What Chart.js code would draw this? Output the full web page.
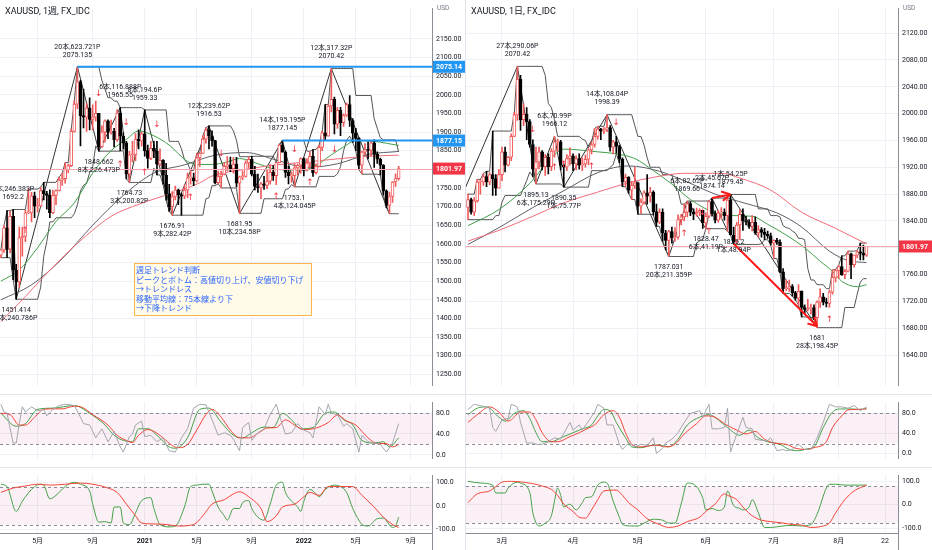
<!DOCTYPE html>
<html lang="ja">
<head>
<meta charset="utf-8">
<title>XAUUSD</title>
<script src="https://cdn.jsdelivr.net/npm/chart.js@4.4.1/dist/chart.umd.min.js"></script>
<style>
html, body { margin: 0; padding: 0; background: #fff; }
#wrap { position: relative; width: 932px; height: 550px; overflow: hidden; }
#wrap canvas { position: absolute; }
#sep { position: absolute; left: 465px; top: 0; width: 1px; height: 550px; background: #e0e3eb; }
</style>
</head>
<body>
<div id="wrap">
  <canvas id="l1" width="466" height="394" style="left:0;top:0"></canvas>
  <canvas id="l2" width="466" height="73" style="left:0;top:394px"></canvas>
  <canvas id="l3" width="466" height="83" style="left:0;top:467px"></canvas>
  <div id="sep"></div>
  <canvas id="r1" width="466" height="394" style="left:466px;top:0"></canvas>
  <canvas id="r2" width="466" height="73" style="left:466px;top:394px"></canvas>
  <canvas id="r3" width="466" height="83" style="left:466px;top:467px"></canvas>
</div>
<script>
// ---------- weekly XAUUSD, bar 0 = week of 2020-02-10 ----------
var wOpen = [1570,1584,1643,1586,1674,1530,1498,1617,1620,1683,
  1683,1729,1701,1702,1743,1735,1730,1684,1730,1743,
  1771,1775,1799,1810,1902,1975,2035,1944,1940,1964,
  1934,1940,1950,1861,1900,1930,1899,1902,1879,1951,
  1889,1871,1788,1839,1839,1881,1876,1895,1850,1829,
  1856,1849,1814,1824,1784,1734,1700,1727,1745,1732,
  1728,1744,1777,1777,1769,1831,1843,1881,1905,1890,
  1877,1764,1781,1787,1808,1812,1802,1814,1763,1780,
  1781,1817,1827,1787,1754,1750,1761,1757,1768,1792,
  1783,1818,1865,1846,1792,1783,1783,1804,1811,1829,
  1797,1817,1835,1791,1808,1859,1898,1889,1970,1988,
  1921,1958,1925,1945,1974,1931,1897,1883,1811,1846,
  1853,1851,1871,1840,1827,1811,1742,1703,1727,1766,
  1775];
var wHigh = [1584,1649,1689,1688,1692.2,1545,1645,1645,1690,1747,
  1738,1739,1722,1752,1765,1741,1745,1744,1745,1779,
  1789,1818,1814,1908,1984,2075.1,2039,2015,1977,1992,
  1973,1983,1950,1917,1933,1933,1932,1910,1960,1965.5,
  1898,1875,1848,1875,1896,1906,1900,1959.3,1865,1875,
  1875,1875,1855,1826,1816,1760,1740,1755,1747,1736,
  1758,1790,1797,1790,1843,1845,1890,1912,1916.5,1903,
  1878,1795,1795,1818,1834,1833,1832,1832,1782,1795,
  1823,1834,1835,1808,1787,1765,1781,1800,1813,1810,
  1818,1868,1877.1,1849,1809,1793,1815,1814,1831,1831,
  1829,1848,1853,1815,1865,1902,1974,1974,2070.4,1994,
  1966,1966,1949,1978,1998,1936,1910,1885,1849,1869,
  1874,1875,1879,1847,1830,1813,1745,1739,1767,1788,
  1808];
var wLow = [1563,1577,1563,1576,1504,1451.4,1484,1567,1606,1681,
  1659,1670,1685,1700,1718,1693,1670,1681,1705,1742,
  1757,1763,1791,1807,1900,1963,1863,1911,1902,1906,
  1906,1929,1848.7,1859,1873,1882,1894,1860,1875,1850,
  1854,1774,1764.7,1820,1823,1855,1862,1835,1803,1826,
  1831,1785,1809,1760,1717,1687,1676.9,1718,1705,1677,
  1721,1724,1760,1756,1766,1808,1843,1870,1855,1862,
  1761,1761,1750,1785,1796,1794,1790,1753,1681.9,1772,
  1779,1803,1782,1745,1738,1721,1746,1748,1760,1770,
  1759,1817,1846,1778,1761,1765,1753.1,1785,1790,1782,
  1796,1805,1781,1788,1807,1850,1878,1889,1954,1895,
  1910,1890,1915,1941,1915,1872,1850,1799,1787,1839,
  1828,1836,1805,1816,1785,1732,1697,1680.9,1711,1754,
  1771];
var wClose = [1584,1643,1585,1674,1530,1498,1617,1620,1683,1683,
  1729,1701,1702,1743,1735,1730,1684,1730,1743,1771,
  1775,1799,1810,1902,1975,2035,1944,1940,1964,1934,
  1940,1950,1861,1900,1930,1899,1902,1879,1951,1889,
  1871,1788,1839,1839,1881,1876,1895,1850,1829,1856,
  1849,1814,1824,1784,1734,1700,1727,1745,1732,1728,
  1744,1777,1777,1769,1831,1843,1881,1905,1890,1877,
  1764,1781,1787,1808,1812,1802,1814,1763,1780,1781,
  1817,1827,1787,1754,1750,1761,1757,1768,1792,1783,
  1818,1865,1846,1792,1783,1783,1804,1811,1829,1797,
  1817,1835,1791,1808,1859,1898,1889,1970,1988,1921,
  1958,1925,1945,1974,1931,1897,1883,1811,1846,1853,
  1851,1871,1840,1827,1811,1742,1703,1727,1766,1775,
  1802];

// weekly moving averages (bar index / price)
var wMaGreenIdx = [0,6,12,18,24,30,36,41,45,50,55,61,65,69,74,78,84,90,96,102,108,112,116,122,126,130];
var wMaGreen = [1500,1530,1590,1660,1710,1790,1850,1880,1903,1890,1865,1821,1813,1813,1820,1829,1815,1800,1798,1805,1839,1860,1877,1875,1870,1864];
var wMaGrayIdx = [0,10,20,30,40,50,60,70,80,90,100,110,120,130];
var wMaGray = [1450,1490,1560,1650,1730,1790,1812,1838,1845,1825,1805,1815,1840,1848];
var wMaRedIdx = [0,7,14,21,28,36,43,51,56,65,69,80,90,100,110,120,130];
var wMaRed = [1392,1450,1512,1571,1623,1674,1700,1723,1736,1764,1782,1800,1812,1820,1828,1835,1838];

// weekly zigzag pivots
var wPivIdx = [4,5,25,32,39,42,47,56,68,78,92,96,108,127];
var wPivPrice = [1692.2,1451.414,2075.135,1848.662,1965.55,1764.73,1959.33,1676.91,1916.53,1681.95,1877.145,1753.1,2070.42,1680.91];
var wNoteIdx = [4,25,39,47,68,92,108,5,32,42,56,78,96];
var wNotePrice = [1692.2,2075.135,1965.55,1959.33,1916.53,1877.145,2070.42,1451.414,1848.662,1764.73,1676.91,1681.95,1753.1];
var wNoteText = ['7本,246.383P|1692.2','20本,623.721P|2075.135','6本,116.888P|1965.55','8本,194.6P|1959.33',
  '12本,239.62P|1916.53','14本,195.195P|1877.145','12本,317.32P|2070.42',
  '1451.414|1本,240.786P','1848.662|8本,226.473P','1764.73|3本,200.82P','1676.91|9本,282.42P',
  '1681.95|10本,234.58P','1753.1|4本,124.045P'];
var wNoteUp = [1,1,1,1,1,1,1,0,0,0,0,0,0];
var wUpIdx = [8,39,47,62,90,101];
var wUpPrice = [1636,1813,1790,1723,1726,1764];
var wDownIdx = [32,41,51,72,96,109];
var wDownPrice = [2003,1924,1919,1841,1854,1854];
var wLevels = [2075.14,1877.15];
var wLevelFrom = [25,92];

var wStKIdx = [0,1,2,4,5,6,7,8,10,12,14,15,17,19,21,24,26,27,29,31,33,35,37,39,40,42,43,44,46,47,49,51,53,55,57,59,61,63,65,67,69,71,73,75,76,78,79,81,82,84,86,88,90,92,93,95,97,99,101,102,104,106,107,108,110,112,113,115,117,118,120,122,124,126,128,130];
var wStK = [96.8,82,79.5,22.7,22.7,59.8,91.9,82,91.9,84.4,86.9,74.6,86.9,94.3,96.8,94.3,72.1,59.8,57.3,32.6,49.9,25.2,44.9,15.3,5.4,35.1,40,57.3,64.7,35.1,37.5,25.2,32.6,7.9,5.4,32.6,49.9,89.4,96.8,95.8,67.2,37.5,42.5,37.5,30.1,7.9,52.3,62.2,27.7,42.5,49.9,77,96.8,57.3,40,42.5,59.8,47.4,42.5,32.6,91.9,77,96.8,79.5,77,54.8,59.8,49.9,5.4,37.5,25.2,22.7,20.2,5.4,22.7,59.8];
var wStDIdx = [0,5,8,12,17,24,29,34,37,40,43,45,48,51,55,57,61,65,68,72,76,79,82,86,89,92,95,98,102,106,109,112,115,118,122,125,127,130];
var wStD = [79.5,54.8,59.8,87,89.4,94.3,79.5,57.3,37.5,27.7,25.2,49.9,49.9,37.5,15.3,12.8,32.6,87,89.4,62.2,37.5,32.6,42.5,53.3,52.3,79.5,67.2,49.9,52.3,79.5,82,67.2,57.3,27.7,22.7,25.2,15.3,32.6];
var wStSIdx = [0,3,6,8,11,14,17,20,24,26,30,35,38,41,43,45,48,50,53,56,58,61,64,67,69,72,75,78,81,85,87,90,93,96,99,103,107,110,113,116,120,123,126,128,130];
var wStS = [79.5,77,57,57,72,87,88,88,93,92,77,57,37.5,27.7,23.7,37.5,48.4,45,32.6,17.8,13.8,20,47.4,77,87,72,47.4,32.6,32.6,45,51.4,52.3,67,57,48.4,51.4,62,76,64.7,57,32.6,21.7,21.7,15.3,20];
var wRciSIdx = [0,2,5,7,11,13,14,16,18,21,24,26,29,30,32,34,36,37,39,40,42,44,46,49,50,52,55,57,60,62,64,66,68,69,71,73,74,76,78,79,81,82,84,86,88,90,92,93,95,97,98,99,101,103,104,106,109,111,113,115,117,118,120,123,125,128,129,130];
var wRciS = [91.4,81.5,-23.5,19.8,81.5,91.4,87.7,29.6,44.4,81.5,100,91.4,63,7.4,-69,-66.7,-72.8,-4.9,-4.9,-72.8,-79,-29.6,22.2,34.6,-11.1,-79,-88.9,-85.2,-4.9,81.5,87.7,91.4,91.4,63,-4.9,-42,-60.5,-11.1,-11.1,13.6,22.2,-11.1,-48.1,-60.5,7.4,87.7,100,56.8,19.8,-4.9,-23.5,19.8,69.1,50.6,38.3,69.1,87.7,81.5,56.8,-11.1,-60.5,-79,-85.2,-54.3,-51.9,-91.4,-85.2,-48.1];
var wRciLIdx = [0,4,8,12,16,21,26,30,35,38,41,44,46,50,54,58,63,66,69,73,76,78,81,85,87,90,92,96,99,101,104,107,111,115,118,122,125,128,130];
var wRciL = [56.8,75.3,84,91.4,87.7,91.4,96.3,91.4,75.3,56.8,7.4,-42,-72.8,-76.5,-79,-85.2,-79,-42,7.4,25.9,50.6,59.3,38.3,-11.1,-66.7,-42,-4.9,7.4,38.3,56.8,44.4,81.5,81.5,81.5,44.4,-4.9,-48.1,-79,-91.4];

var wTickIdx = [12,30,47,64,82,99,116,134];
var wTickText = ['5月','9月','2021','5月','9月','2022','5月','9月'];
var wPriceTicks = [1250,1300,1350,1400,1450,1500,1550,1600,1650,1700,1750,1800,1850,1900,1950,2000,2050,2100,2150];

// ---------- daily XAUUSD, bar 0 = 2022-02-14 ----------
var dOpen = [1860,1872,1853,1870,1898,1898,1906,1898,1909,1903,
  1889,1909,1943,1923,1935,1966,1998,2051,1991,1999,
  1988,1954,1917,1928,1943,1921,1935,1921,1944,1958,
  1958,1923,1920,1933,1937,1925,1933,1923,1925,1932,
  1946,1954,1966,1977,1974,1977,1979,1950,1958,1951,
  1932,1898,1905,1886,1893,1897,1862,1868,1882,1877,
  1883,1854,1838,1853,1822,1811,1824,1815,1816,1842,
  1846,1853,1866,1853,1850,1853,1856,1837,1847,1869,
  1851,1841,1852,1853,1848,1871,1819,1809,1834,1850,
  1840,1838,1832,1838,1822,1827,1823,1820,1818,1807,
  1811,1808,1764,1739,1740,1742,1733,1725,1735,1711,
  1708,1709,1711,1696,1719,1727,1719,1717,1734,1756,
  1766,1772,1760,1765,1791,1775,1789,1794,1792,1789];
var dHigh = [1880,1874,1875,1902,1902,1911,1914,1912,1974,1909,
  1917,1950,1950,1936,1970,2002,2070.4,2057,2015,2009,
  1991,1961,1950,1950,1945,1939,1940,1948,1966.1,1962,
  1960,1925,1939,1949,1940,1937,1940,1934,1938,1948,
  1958,1978,1981,1978,1979,1998.4,1982,1960,1966,1953,
  1934,1910,1906,1899,1920,1898,1873,1885,1909,1890,
  1885,1865,1858,1858,1826,1826,1831,1830,1849,1850,
  1865,1869.7,1869,1858,1859,1858,1856,1852,1870,1874.1,
  1855,1856,1860,1858,1875,1879.5,1831,1838,1857,1858,
  1847,1842,1848,1846,1833,1830,1829,1825,1822,1812,
  1814,1812,1769,1752,1752,1745,1735,1745,1736,1715,
  1723,1716,1715,1721,1739,1732,1725,1737,1767,1768,
  1774,1788,1768,1795,1792,1789,1796,1807,1804,1802];
var dLow = [1842,1850,1848,1868,1880,1893,1891,1894,1878,1878,
  1889,1900,1913,1922,1930,1966,1990,1975,1982,1961,
  1950,1906,1895.1,1918,1916,1908,1910,1915,1935,1944,
  1916,1890.4,1915,1923,1915,1916,1917,1915,1920,1924,
  1940,1950,1962,1961,1970,1973,1944,1940,1941,1927,
  1891,1891,1881,1872,1888,1850,1851,1865,1865,1868,
  1849,1832,1836,1810,1797,1787,1807,1810,1813,1834,
  1840,1846,1848,1842,1847,1848,1829,1828.5,1845,1847,
  1837,1838,1843,1841,1825.2,1819,1805,1806,1812,1826,
  1834,1829,1825,1820,1816,1816,1812,1814,1804,1784,
  1805,1763,1732,1736,1735,1728,1722,1715,1697,1702,
  1706,1701,1693,1681,1711,1715,1712,1711,1731,1749,
  1754,1759,1754,1764,1754,1771,1785,1782,1782,1787];
var dClose = [1872,1853,1870,1898,1898,1906,1898,1909,1903,1889,
  1909,1943,1923,1935,1966,1998,2051,1991,1999,1988,
  1954,1917,1928,1943,1921,1935,1921,1944,1958,1958,
  1923,1920,1933,1937,1925,1933,1923,1925,1932,1946,
  1954,1966,1977,1974,1977,1979,1950,1958,1951,1932,
  1898,1905,1886,1893,1897,1862,1868,1882,1877,1883,
  1854,1838,1853,1822,1811,1824,1815,1816,1842,1846,
  1853,1866,1853,1850,1853,1856,1837,1847,1869,1851,
  1841,1852,1853,1848,1871,1819,1809,1834,1850,1840,
  1838,1832,1838,1822,1827,1823,1820,1818,1807,1811,
  1808,1764,1739,1740,1742,1733,1725,1735,1711,1708,
  1709,1711,1696,1719,1727,1719,1717,1734,1756,1766,
  1772,1760,1765,1791,1775,1789,1794,1792,1789,1802];

var dMaRedIdx = [0,10,21,31,42,52,60,70,82,88,98,108,119,125,129];
var dMaRed = [1810,1826,1847,1867,1883,1897,1905,1911,1911,1904,1886,1853,1829,1815,1806];
var dMaGreenIdx = [0,10,20,26,31,42,48,54,60,66,72,80,86,92,97,103,109,114,118,121,126,129];
var dMaGreen = [1833,1857,1896,1929,1947,1943,1940,1933,1915,1895,1872,1852,1848,1847,1835,1819,1800,1780,1765,1750,1742,1745];
var dMaGrayIdx = [0,10,21,31,42,52,62,70,80,90,100,108,117,123,129];
var dMaGray = [1805,1830,1860,1885,1912,1922,1914,1900,1880,1866,1852,1831,1795,1781,1778];

var dPivIdx = [-11,16,22,28,31,45,65,71,77,79,84,85,113];
var dPivPrice = [1780.36,2070.42,1895.13,1966.12,1890.35,1998.39,1787.031,1869.66,1828.47,1874.14,1825.2,1879.45,1681];
var dNoteIdx = [16,28,45,71,79,85,22,31,65,77,86,113];
var dNotePrice = [2070.42,1966.12,1998.39,1869.66,1874.14,1879.45,1895.13,1890.35,1787.031,1828.47,1825.2,1681];
var dNoteText = ['27本,290.06P|2070.42','6本,70.99P|1966.12','14本,108.04P|1998.39','6本,82.62P|1869.66',
  '2本,45.67P|1874.14','1本,54.25P|1879.45','1895.13|6本,175.29P','1890.35|1本,75.77P',
  '1787.031|20本,211.359P','1828.47|6本,41.19P','1825.2|1本,48.94P','1681|28本,198.45P'];
var dNoteUp = [1,1,1,1,1,1,0,0,0,0,0,0];
var dUpIdx = [28,31,40,70,78,117];
var dUpPrice = [1919,1924,1921,1821,1824,1693];
var dDownIdx = [21,48,76];
var dDownPrice = [1976,1986,1853];
var dArrowX0 = [79,86], dArrowY0 = [1874.14,1806];
var dArrowX1 = [85,113], dArrowY1 = [1879.45,1683];

var dStKIdx = [0,2,4,7,8,9,11,13,14,16,17,19,21,22,24,26,28,30,33,34,36,37,39,41,42,44,45,47,49,50,52,54,56,58,60,61,63,64,66,68,70,72,75,76,78,79,81,83,84,85,87,89,90,92,93,95,97,98,100,102,103,105,107,109,111,113,115,117,119,121,123,125,127,129];
var dStK = [87.1,97.2,94.7,89.6,51.5,43.8,66.8,69.3,97.2,92.2,61.7,21,21,18.5,18.5,23.5,31.2,28.6,61.7,46.4,56.6,46.4,64.2,82,97.2,89.6,56.6,56.6,18.5,8.3,21,13.4,18.5,15.9,31.2,0.7,10.8,21,28.6,41.3,61.7,79.4,84.6,71.8,97.2,48.9,48.9,51.5,89.6,3.2,38.8,71.8,51.5,48.9,28.6,26,26,31.2,5.8,8.3,5.8,8.3,18.5,8.3,8.3,31.2,61.7,97.2,92.2,92.2,89.6,94.7,84.6,92.2];
var dStDIdx = [0,3,6,10,12,15,18,20,22,24,27,30,34,37,40,42,44,46,48,51,53,56,60,63,65,68,71,75,78,81,84,88,91,94,97,101,104,107,110,112,115,118,121,124,127,129];
var dStD = [76.9,89.6,92.2,71.8,64.2,79.4,84.6,69.3,41.3,23.5,23.5,31.2,41.3,48.9,56.6,74.4,87.1,84.6,61.7,31.2,13.4,11.8,16.9,15.9,13.4,28.6,56.6,71.8,76.9,66.8,51.5,36.2,46.4,31.2,23.5,18.5,8.3,5.8,9.8,13.4,51.5,82,88.1,88.1,87.1,89.6];
var dStSIdx = [0,3,7,10,13,14,17,20,22,24,27,29,33,36,39,41,44,47,49,51,53,56,61,64,67,70,74,77,80,83,87,90,93,96,99,103,106,109,112,116,118,121,123,126,129];
var dStS = [61.7,76.9,92.2,82,64.2,66.8,82,82,66.8,41.3,23.5,23.5,33.7,41.3,50.5,56.6,76.9,84.6,71.8,41.3,18.5,13.4,16.9,13.4,18.5,38.8,59.1,74.4,71.8,59.1,46.4,38.8,43.8,28.6,21,18.5,10.8,8.3,11.8,23.5,51.5,74.4,86.1,87.1,88.1];
var dRciSIdx = [0,4,8,9,12,13,16,17,20,21,23,25,27,28,29,30,31,33,35,37,38,40,42,44,45,47,49,50,53,55,57,60,63,65,67,69,71,74,76,77,79,81,83,84,86,88,89,91,92,94,96,98,102,105,108,111,113,116,117,119,122,125,129];
var dRciS = [100,92.5,83.8,50,50,71.3,96.3,92.5,52.5,-35,-91.3,-78.8,-47.5,15,71.3,40,-10,2.5,-22.5,8.8,30,33.8,83.8,96.3,92.5,15,-53.8,-85,-91.3,-91.3,-78.8,-62.5,-66.3,-78.8,-78.8,2.5,92.5,77.5,27.5,-22.5,-16.3,-25,-10,58.8,-3.8,-16.3,-22.5,-10,21.3,-35,-97.5,-97.5,-91.3,-88.8,-91.3,-85,-41.3,71.3,87.5,87.5,83.8,83.8,83.8];
var dRciLIdx = [0,3,7,9,11,14,17,21,24,27,29,31,34,36,38,40,42,44,48,50,52,55,58,62,65,68,71,75,77,80,83,84,87,89,92,95,98,102,105,108,111,115,117,119,122,125,129];
var dRciL = [8.8,46.3,58.8,77.5,96.3,100,97.5,90,80,65,40,2.5,-28.8,-53.8,-57.5,-22.5,21.3,58.8,62.5,40,8.8,-22.5,-60,-85,-97.5,-91.3,-72.5,-53.8,-28.8,2.5,46.3,40,21.3,-10,-47.5,-66.3,-72.5,-78.8,-85,-87.5,-97.5,-91.3,-78.8,-35,21.3,58.8,83.8];

var dTickIdx = [11,34,55,77,99,120,135];
var dTickText = ['3月','4月','5月','6月','7月','8月','22'];
var dPriceTicks = [1640,1680,1720,1760,1800,1840,1880,1920,1960,2000,2040,2080,2120];

var lastPrice = 1801.97;
var stochTicks = [0,40,80];
var rciTicks = [-100,0,100];
var noteBox = ['週足トレンド判断','ピークとボトム：高値切り上げ、安値切り下げ','→トレンドレス','移動平均線：75本線より下','→下降トレンド'];

// ---------- helpers ----------
var FONT = 'Roboto, "Noto Sans CJK JP", sans-serif';
Chart.defaults.font.family = FONT;
Chart.defaults.font.size = 7;
Chart.defaults.color = '#131722';

var UP = '#f05a5a', DOWN = '#000000';

function candles(o, h, l, c) {
  var body = [], wick = [], bg = [], bc = [];
  for (var k = 0; k < o.length; k++) {
    var up = c[k] >= o[k];
    body.push({x: k, y: [o[k], c[k]]});
    wick.push({x: k, y: [l[k], h[k]]});
    bg.push(up ? '#ffffff' : DOWN);
    bc.push(up ? UP : DOWN);
  }
  return [
    {type: 'bar', data: body, backgroundColor: bg, borderColor: bc, borderWidth: 1, borderSkipped: false,
     barThickness: 3, minBarLength: 1, grouped: false, order: 0},
    {type: 'bar', data: wick, backgroundColor: bc, barThickness: 1, grouped: false, order: 1}
  ];
}

function pts(idx, val) {
  return idx.map(function (v, k) { return {x: v, y: val[k]}; });
}

// rolling highest high / lowest low (price channel)
function channel(arr, n, hi) {
  var out = [];
  for (var k = 0; k < arr.length; k++) {
    var s = arr.slice(Math.max(0, k - n + 1), k + 1);
    out.push({x: k, y: hi ? Math.max.apply(null, s) : Math.min.apply(null, s)});
  }
  return out;
}

function line(data, color, w, smooth) {
  return {type: 'line', data: data, borderColor: color, borderWidth: w, pointRadius: 0, fill: false,
          tension: 0, cubicInterpolationMode: smooth ? 'monotone' : 'default', order: 5};
}

function xAxis(min, max, tIdx, tTxt, show) {
  return {
    type: 'linear', min: min, max: max, offset: false,
    afterBuildTicks: function (s) { s.ticks = tIdx.map(function (v) { return {value: v}; }); },
    afterFit: function (s) { s.height = show ? 17 : 0; },
    grid: {color: '#eef0f5', drawTicks: false, offset: false},
    border: {display: show, color: '#8a8d96'},
    ticks: {
      display: show, autoSkip: false, maxRotation: 0, padding: 4,
      font: function (c) { return {size: 7, weight: /^\d{4}$/.test(tTxt[c.index]) ? 'bold' : 'normal'}; },
      callback: function (v, k) { return tTxt[k]; }
    }
  };
}

function yAxis(min, max, tv, dec) {
  return {
    position: 'right', min: min, max: max,
    afterBuildTicks: function (s) { s.ticks = tv.map(function (v) { return {value: v}; }); },
    afterFit: function (s) { s.width = 34; },
    grid: {color: '#eef0f5', drawTicks: false},
    border: {display: true, color: '#8a8d96'},
    ticks: {padding: 4, callback: function (v) { return v.toFixed(dec); }}
  };
}

function baseOpts(xs, ys) {
  return {
    responsive: false, animation: false, events: [], layout: {padding: 0},
    plugins: {legend: {display: false}, tooltip: {enabled: false}},
    scales: {x: xs, y: ys}
  };
}

function pricePlugin(cfg) {
  return {
    id: 'pricedeco',
    afterDatasetsDraw: function (ch) {
      var g = ch.ctx, x = ch.scales.x, y = ch.scales.y, a = ch.chartArea, k;
      g.save();
      g.beginPath(); g.rect(a.left, a.top, a.right - a.left, a.bottom - a.top); g.clip();
      var ly = Math.round(y.getPixelForValue(lastPrice)) + 0.5;
      g.strokeStyle = '#f6a5ab'; g.lineWidth = 1;
      g.beginPath(); g.moveTo(a.left, ly); g.lineTo(a.right, ly); g.stroke();
      for (k = 0; k < cfg.levels.length; k++) {
        var yy = y.getPixelForValue(cfg.levels[k]);
        g.strokeStyle = '#2196f3'; g.lineWidth = 2;
        g.beginPath(); g.moveTo(x.getPixelForValue(cfg.levelFrom[k]), yy); g.lineTo(a.right, yy); g.stroke();
      }
      for (k = 0; k < cfg.arX0.length; k++) {
        var x0 = x.getPixelForValue(cfg.arX0[k]), y0 = y.getPixelForValue(cfg.arY0[k]);
        var x1 = x.getPixelForValue(cfg.arX1[k]), y1 = y.getPixelForValue(cfg.arY1[k]);
        var ang = Math.atan2(y1 - y0, x1 - x0);
        g.strokeStyle = '#ff1a1a'; g.lineWidth = 2;
        g.beginPath(); g.moveTo(x0, y0); g.lineTo(x1, y1);
        g.moveTo(x1, y1); g.lineTo(x1 - 10 * Math.cos(ang - 0.5), y1 - 10 * Math.sin(ang - 0.5));
        g.moveTo(x1, y1); g.lineTo(x1 - 10 * Math.cos(ang + 0.5), y1 - 10 * Math.sin(ang + 0.5));
        g.stroke();
      }
      g.font = '7px ' + FONT; g.fillStyle = '#131722'; g.textAlign = 'center'; g.textBaseline = 'middle';
      for (k = 0; k < cfg.noteIdx.length; k++) {
        var px = x.getPixelForValue(cfg.noteIdx[k]), pp = y.getPixelForValue(cfg.notePrice[k]);
        var t = cfg.noteText[k].split('|');
        if (cfg.noteUp[k]) { g.fillText(t[0], px, pp - 20); g.fillText(t[1], px, pp - 12); }
        else { g.fillText(t[0], px, pp + 11); g.fillText(t[1], px, pp + 19); }
      }
      g.font = '9px "DejaVu Sans", sans-serif'; g.fillStyle = '#f23645';
      for (k = 0; k < cfg.upIdx.length; k++) g.fillText('↑', x.getPixelForValue(cfg.upIdx[k]), y.getPixelForValue(cfg.upPrice[k]));
      for (k = 0; k < cfg.downIdx.length; k++) g.fillText('↓', x.getPixelForValue(cfg.downIdx[k]), y.getPixelForValue(cfg.downPrice[k]));
      g.restore();
    },
    afterDraw: function (ch) {
      var g = ch.ctx, x = ch.scales.x, y = ch.scales.y, a = ch.chartArea, k;
      g.save();
      g.textBaseline = 'middle'; g.textAlign = 'left';
      g.font = '9px ' + FONT; g.fillStyle = '#131722';
      g.fillText(cfg.title, 5, 12);
      g.font = '6.5px ' + FONT; g.fillStyle = '#787b86';
      g.fillText('USD', a.right + 5, 8);
      for (k = 0; k < cfg.boxes.length; k++) {
        var by = y.getPixelForValue(cfg.boxes[k]);
        g.fillStyle = cfg.boxColors[k];
        g.fillRect(a.right + 1, by - 6, ch.width - a.right - 1, 12);
        g.fillStyle = '#ffffff'; g.font = 'bold 7px ' + FONT;
        g.fillText(cfg.boxes[k].toFixed(2), a.right + 4, by + 0.5);
      }
      if (cfg.textIdx !== undefined) {
        var tx = x.getPixelForValue(cfg.textIdx), ty = y.getPixelForValue(cfg.textPrice);
        g.fillStyle = '#fffbe8'; g.fillRect(tx, ty, 177, 52);
        g.strokeStyle = '#ffb74d'; g.lineWidth = 1; g.strokeRect(Math.round(tx) + 0.5, Math.round(ty) + 0.5, 177, 52);
        g.fillStyle = '#2962ff'; g.font = '8px "Noto Sans CJK JP", sans-serif';
        for (k = 0; k < noteBox.length; k++) g.fillText(noteBox[k], tx + 2, ty + 7 + k * 9.5);
      }
      g.restore();
    }
  };
}

function oscPlugin(lo, hi, bottom) {
  return {
    id: 'oscdeco',
    beforeDatasetsDraw: function (ch) {
      var g = ch.ctx, y = ch.scales.y, a = ch.chartArea;
      var y0 = y.getPixelForValue(hi), y1 = y.getPixelForValue(lo);
      g.save();
      g.fillStyle = 'rgba(216, 27, 140, 0.065)';
      g.fillRect(a.left, y0, a.right - a.left, y1 - y0);
      g.strokeStyle = '#8a8d96'; g.lineWidth = 1; g.setLineDash([3, 3]);
      [y0, y1].forEach(function (v) {
        v = Math.round(v) + 0.5;
        g.beginPath(); g.moveTo(a.left, v); g.lineTo(a.right, v); g.stroke();
      });
      g.setLineDash([]);
      g.strokeStyle = '#e0e3eb';
      g.beginPath(); g.moveTo(0, 0.5); g.lineTo(ch.width, 0.5); g.stroke();
      if (bottom) {
        g.strokeStyle = '#8a8d96';
        g.beginPath(); g.moveTo(a.right + 0.5, a.bottom); g.lineTo(a.right + 0.5, ch.height); g.stroke();
      }
      g.restore();
    }
  };
}

function oscChart(id, sets, xs, ys, lo, hi, bottom) {
  return new Chart(document.getElementById(id), {
    type: 'line', data: {datasets: sets}, options: baseOpts(xs, ys), plugins: [oscPlugin(lo, hi, bottom)]
  });
}

// ---------- left: weekly ----------
var LX0 = -0.3, LX1 = 140.9;
new Chart(document.getElementById('l1'), {
  type: 'bar',
  data: {datasets: candles(wOpen, wHigh, wLow, wClose).concat([
    line(pts(wMaRedIdx, wMaRed), '#ef6c78', 1, true),
    line(pts(wMaGrayIdx, wMaGray), '#5d6068', 1, true),
    line(pts(wMaGreenIdx, wMaGreen), '#3f9f48', 1, true),
    line(channel(wHigh, 8, true), '#555555', 1, false),
    line(channel(wLow, 8, false), '#555555', 1, false),
    line(pts(wPivIdx, wPivPrice), '#333333', 1, false)
  ])},
  options: baseOpts(xAxis(LX0, LX1, wTickIdx, wTickText, false), yAxis(1219.2, 2232.3, wPriceTicks, 2)),
  plugins: [pricePlugin({
    title: 'XAUUSD, 1週, FX_IDC', levels: wLevels, levelFrom: wLevelFrom,
    arX0: [], arY0: [], arX1: [], arY1: [],
    noteIdx: wNoteIdx, notePrice: wNotePrice, noteText: wNoteText, noteUp: wNoteUp,
    upIdx: wUpIdx, upPrice: wUpPrice, downIdx: wDownIdx, downPrice: wDownPrice,
    boxes: [2075.14, 1877.15, lastPrice], boxColors: ['#2196f3', '#2196f3', '#f23645'],
    textIdx: 43.5, textPrice: 1548
  })]
});
oscChart('l2', [
  line(pts(wStKIdx, wStK), '#a3a6ad', 1, false),
  line(pts(wStSIdx, wStS), '#f44336', 1, true),
  line(pts(wStDIdx, wStD), '#43a047', 1, true)
], xAxis(LX0, LX1, wTickIdx, wTickText, false), yAxis(-7.4, 100.7, stochTicks, 1), 20, 80, false);
oscChart('l3', [
  line(pts(wRciLIdx, wRciL), '#f44336', 1, true),
  line(pts(wRciSIdx, wRciS), '#43a047', 1, true)
], xAxis(LX0, LX1, wTickIdx, wTickText, true), yAxis(-114.8, 129.6, rciTicks, 1), -80, 80, true);

// ---------- right: daily ----------
var RX0 = -0.65, RX1 = 139.2;
new Chart(document.getElementById('r1'), {
  type: 'bar',
  data: {datasets: candles(dOpen, dHigh, dLow, dClose).concat([
    line(pts(dMaRedIdx, dMaRed), '#ef6c78', 1, true),
    line(pts(dMaGrayIdx, dMaGray), '#5d6068', 1, true),
    line(pts(dMaGreenIdx, dMaGreen), '#3f9f48', 1, true),
    line(channel(dHigh, 9, true), '#555555', 1, false),
    line(channel(dLow, 9, false), '#555555', 1, false),
    line(pts(dPivIdx, dPivPrice), '#333333', 1, false)
  ])},
  options: baseOpts(xAxis(RX0, RX1, dTickIdx, dTickText, false), yAxis(1594.3, 2157.1, dPriceTicks, 2)),
  plugins: [pricePlugin({
    title: 'XAUUSD, 1日, FX_IDC', levels: [], levelFrom: [],
    arX0: dArrowX0, arY0: dArrowY0, arX1: dArrowX1, arY1: dArrowY1,
    noteIdx: dNoteIdx, notePrice: dNotePrice, noteText: dNoteText, noteUp: dNoteUp,
    upIdx: dUpIdx, upPrice: dUpPrice, downIdx: dDownIdx, downPrice: dDownPrice,
    boxes: [lastPrice], boxColors: ['#f23645']
  })]
});
oscChart('r2', [
  line(pts(dStKIdx, dStK), '#a3a6ad', 1, false),
  line(pts(dStSIdx, dStS), '#f44336', 1, true),
  line(pts(dStDIdx, dStD), '#43a047', 1, true)
], xAxis(RX0, RX1, dTickIdx, dTickText, false), yAxis(-10.1, 101.4, stochTicks, 1), 20, 80, false);
oscChart('r3', [
  line(pts(dRciLIdx, dRciL), '#f44336', 1, true),
  line(pts(dRciSIdx, dRciS), '#43a047', 1, true)
], xAxis(RX0, RX1, dTickIdx, dTickText, true), yAxis(-121.3, 126.2, rciTicks, 1), -80, 80, true);
</script>
</body>
</html>
